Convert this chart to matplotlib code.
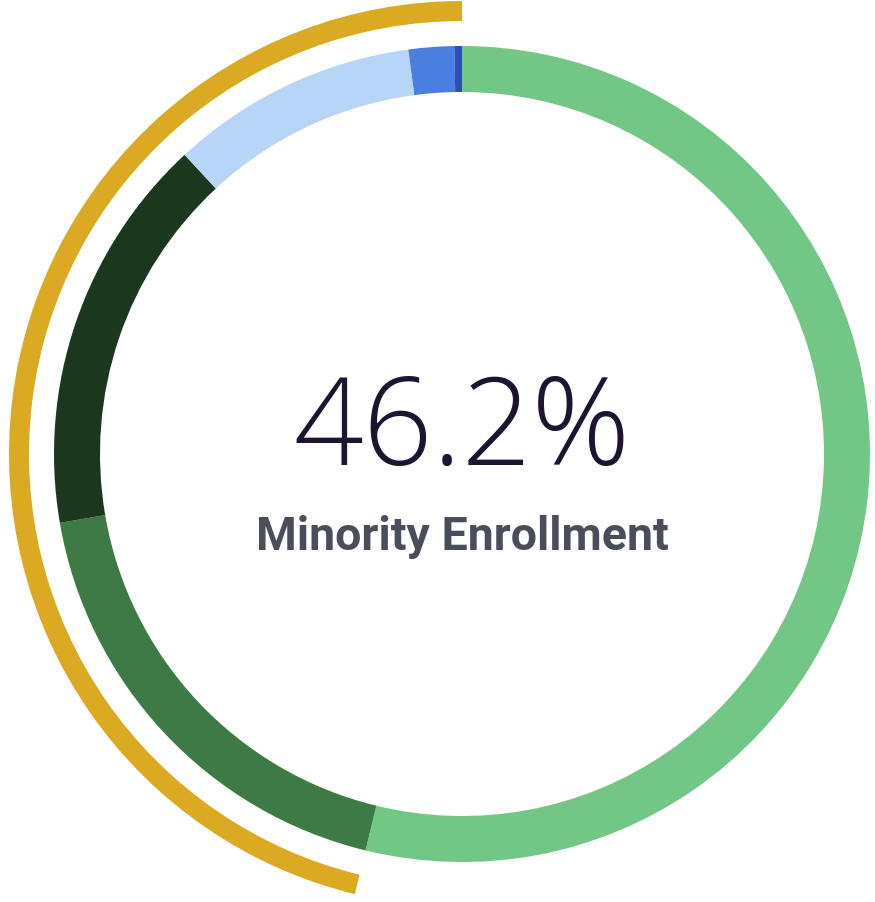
import matplotlib.pyplot as plt

# enrollment shares, clockwise from 12 o'clock
groups = ["White", "Hispanic", "Black", "Asian", "Two or more", "Other"]
shares = [53.8, 18.5, 15.8, 9.8, 1.8, 0.3]
colors = ["#72c786", "#3e7a45", "#1b381e", "#b7d6f7", "#4a7fe0", "#2d4fb3"]

minority_pct = 46.2
headline = "46.2%"
subtitle = "Minority Enrollment"

W, H = 875, 903
cx, cy = 462, H - 455

fig = plt.figure(figsize=(W / 100, H / 100), dpi=100)
ax = fig.add_axes([0, 0, 1, 1])

# main ring
ax.pie(shares, colors=colors, startangle=90, counterclock=False,
       radius=408, center=(cx, cy),
       wedgeprops=dict(width=46, linewidth=0, antialiased=True))

# outer minority arc
ax.pie([minority_pct, 100 - minority_pct], colors=["#dba922", "none"],
       startangle=90, counterclock=True, radius=453, center=(cx, cy),
       wedgeprops=dict(width=20, linewidth=0))

ax.set_xlim(0, W)
ax.set_ylim(0, H)
ax.set_aspect("equal")
ax.axis("off")

ax.text(cx, H - 465, headline, ha="center", va="baseline",
        fontsize=88, fontfamily="Open Sans", fontweight="light", color="#1d1430")
ax.text(cx, H - 550, subtitle, ha="center", va="baseline",
        fontsize=33.5, fontfamily="Roboto", fontweight="bold", color="#4a4e5b")

fig.savefig("out.png", dpi=100)
